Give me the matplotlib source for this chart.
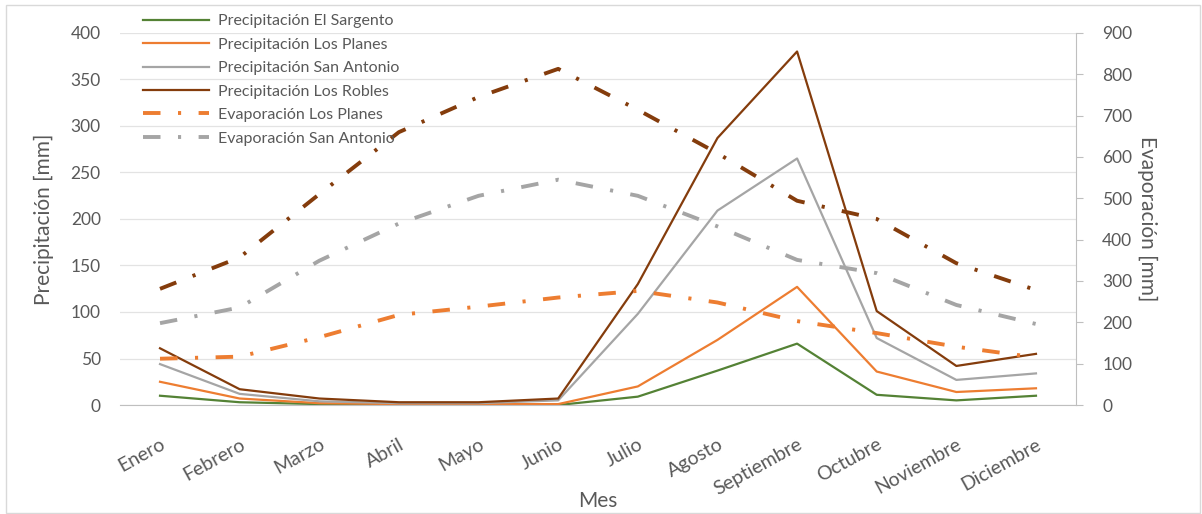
import numpy as np
import matplotlib.pyplot as plt
from matplotlib.patches import Rectangle

plt.rcParams['font.family'] = ['Lato', 'DejaVu Sans']

meses = ["Enero", "Febrero", "Marzo", "Abril", "Mayo", "Junio", "Julio",
         "Agosto", "Septiembre", "Octubre", "Noviembre", "Diciembre"]

# precipitation [mm], left axis
prec_sargento = [10, 3, 1, 0, 0, 0, 9, 37, 66, 11, 5, 10]
prec_planes = [25, 7, 2, 1, 1, 1, 20, 70, 127, 36, 14, 18]
prec_antonio = [44, 12, 4, 2, 2, 5, 98, 209, 265, 72, 27, 34]
prec_robles = [61, 17, 7, 3, 3, 7, 130, 287, 380, 101, 42, 55]

# evaporation [mm], right axis
evap_planes = [112, 117, 164, 218, 238, 260, 276, 248, 203, 174, 141, 115]
evap_antonio = [198, 236, 349, 439, 506, 545, 506, 432, 351, 319, 242, 196]
evap_robles = [281, 357, 510, 660, 745, 813, 714, 609, 494, 450, 343, 278]

txt = '#595959'
dashdot = (0, (4.5, 4.5, 0.8, 4.5))

fig = plt.figure(figsize=(12.02, 5.14), dpi=100)
ax = fig.add_axes([0.1, 0.212, 0.795, 0.724])
ax2 = ax.twinx()

x = np.arange(len(meses))

h1, = ax.plot(x, prec_sargento, color='#548235', lw=1.6)
h2, = ax.plot(x, prec_planes, color='#ED7D31', lw=1.6)
h3, = ax.plot(x, prec_antonio, color='#A5A5A5', lw=1.6)
h4, = ax.plot(x, prec_robles, color='#843C0C', lw=1.6)
h5, = ax2.plot(x, evap_planes, color='#ED7D31', lw=2.8, linestyle=dashdot, dash_capstyle='butt')
h6, = ax2.plot(x, evap_antonio, color='#A5A5A5', lw=2.8, linestyle=dashdot, dash_capstyle='butt')
ax2.plot(x, evap_robles, color='#843C0C', lw=2.8, linestyle=dashdot, dash_capstyle='butt')

ax.set_xlim(-0.5, 11.5)
ax.set_ylim(0, 400)
ax.set_yticks(np.arange(0, 401, 50))
ax2.set_ylim(0, 900)
ax2.set_yticks(np.arange(0, 901, 100))

ax.set_xticks(x)
ax.set_xticklabels(meses, rotation=29, ha='right', rotation_mode='anchor')
ax.tick_params(axis='x', length=0, labelsize=14, colors=txt, pad=22)
ax.tick_params(axis='y', length=0, labelsize=12.5, colors=txt, pad=14)
ax2.tick_params(axis='y', length=5, width=0.8, color='#BFBFBF', labelsize=12.5, colors=txt, pad=14)

ax.grid(axis='y', color='#E3E3E3', lw=0.9)
ax.set_axisbelow(True)
for a in (ax, ax2):
    for s in ('top', 'left'):
        a.spines[s].set_visible(False)
ax2.spines['bottom'].set_visible(False)
ax.spines['right'].set_visible(False)
ax.spines['bottom'].set_color('#BFBFBF')
ax2.spines['right'].set_color('#BFBFBF')

ax.set_xlabel("Mes", fontsize=15, color=txt, labelpad=-5)
ax.set_ylabel("Precipitación [mm]", fontsize=15, color=txt, labelpad=12)
ax2.set_ylabel("Evaporación [mm]", fontsize=15, color=txt, rotation=-90, labelpad=18)

fig.legend([h1, h2, h3, h4, h5, h6],
           ["Precipitación El Sargento", "Precipitación Los Planes",
            "Precipitación San Antonio", "Precipitación Los Robles",
            "Evaporación Los Planes", "Evaporación San Antonio"],
           loc='upper left', bbox_to_anchor=(0.114, 0.985), frameon=False,
           fontsize=11.5, labelcolor=txt, handlelength=4.1, handletextpad=0.55,
           labelspacing=0.58, borderaxespad=0)

fig.patches.append(Rectangle((0.005, 0.002), 0.993, 0.988, transform=fig.transFigure,
                             fill=False, edgecolor='#D9D9D9', lw=1))

fig.savefig("out.png", dpi=100)
